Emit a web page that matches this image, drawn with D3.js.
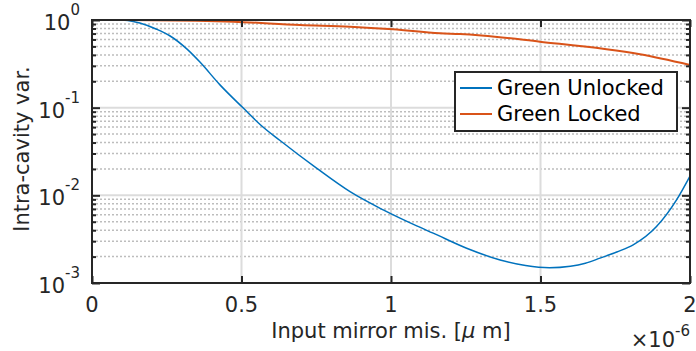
<!DOCTYPE html>
<html>
<head>
<meta charset="utf-8">
<script src="https://cdn.jsdelivr.net/npm/d3@7"></script>
<style>
  body { margin: 0; background: #fff; }
  svg text { font-family: "DejaVu Sans", sans-serif; fill: #262626; }
</style>
</head>
<body>
<svg id="chart" width="696" height="351"></svg>
<script>
'use strict';

// x in units of 1e-6 (shown with the x10^-6 multiplier)
const unlockedX = [0, 0.1, 0.12, 0.16, 0.216, 0.26, 0.317, 0.361, 0.428, 0.506, 0.565, 0.629, 0.751, 0.863, 0.974, 1.086, 1.141, 1.253, 1.365, 1.45, 1.53, 1.6, 1.65, 1.699, 1.755, 1.81, 1.888, 1.955, 2.0];
const unlockedY = [1.0, 1.0, 0.989, 0.923, 0.785, 0.661, 0.468, 0.331, 0.182, 0.0989, 0.0631, 0.0422, 0.0204, 0.011, 0.00682, 0.00448, 0.0037, 0.00249, 0.00183, 0.00158, 0.00149, 0.00155, 0.00168, 0.00192, 0.00226, 0.00272, 0.0044, 0.00887, 0.0166];
const lockedX = [0, 0.2, 0.473, 0.696, 0.863, 1.007, 1.164, 1.231, 1.498, 1.833, 2.0];
const lockedY = [1.0, 0.995, 0.957, 0.877, 0.839, 0.783, 0.705, 0.692, 0.566, 0.406, 0.307];

const xTicks = [0, 0.5, 1, 1.5, 2];
const xTickLabels = ['0', '0.5', '1', '1.5', '2'];
const yDecades = [1e-3, 1e-2, 1e-1, 1];
const yExponents = ['-3', '-2', '-1', '0'];
const seriesNames = ['Green Unlocked', 'Green Locked'];
const seriesColors = ['#0072BD', '#D95319'];

const AXIS = '#262626';
const FS = 21, SUP = 15;
const PL = 92, PR = 690, PT = 20, PB = 283;

const svg = d3.select('#chart');
const x = d3.scaleLinear().domain([0, 2]).range([PL, PR]);
const y = d3.scaleLog().domain([1e-3, 1]).range([PB, PT]);

// grid
const grid = svg.append('g');
const minorY = [];
yDecades.slice(0, 3).forEach(function(d) {
    for (let k = 2; k <= 9; k++) minorY.push(d * k);
});
grid.selectAll('.minor').data(minorY).enter().append('line')
    .attr('x1', PL).attr('x2', PR)
    .attr('y1', d => y(d)).attr('y2', d => y(d))
    .attr('stroke', '#bdbdbd').attr('stroke-width', 1.5)
    .attr('stroke-dasharray', '2,2');
grid.selectAll('.majY').data(yDecades).enter().append('line')
    .attr('x1', PL).attr('x2', PR)
    .attr('y1', d => y(d)).attr('y2', d => y(d))
    .attr('stroke', '#dcdcdc').attr('stroke-width', 2);
grid.selectAll('.majX').data(xTicks).enter().append('line')
    .attr('x1', d => x(d)).attr('x2', d => x(d))
    .attr('y1', PT).attr('y2', PB)
    .attr('stroke', '#dcdcdc').attr('stroke-width', 2);

// lines
const line = d3.line()
    .x(d => x(d[0]))
    .y(d => y(d[1]))
    .curve(d3.curveMonotoneX);
const series = [
    d3.zip(unlockedX, unlockedY),
    d3.zip(lockedX, lockedY)
];
const widths = [1.5, 2];
series.forEach(function(s, i) {
    svg.append('path')
        .datum(s)
        .attr('d', line)
        .attr('fill', 'none')
        .attr('stroke', seriesColors[i])
        .attr('stroke-width', widths[i]);
});

// axes: ticks inward on all four sides
const ax = svg.append('g');
ax.append('g').attr('transform', 'translate(0,' + PB + ')')
    .call(d3.axisBottom(x).tickValues(xTicks).tickSizeInner(-7).tickSizeOuter(0).tickFormat(''));
ax.append('g').attr('transform', 'translate(0,' + PT + ')')
    .call(d3.axisTop(x).tickValues(xTicks).tickSizeInner(-7).tickSizeOuter(0).tickFormat(''));
ax.append('g').attr('transform', 'translate(' + PL + ',0)')
    .call(d3.axisLeft(y).tickValues(yDecades).tickSizeInner(-8).tickSizeOuter(0).tickFormat(''));
ax.append('g').attr('transform', 'translate(' + PR + ',0)')
    .call(d3.axisRight(y).tickValues(yDecades).tickSizeInner(-8).tickSizeOuter(0).tickFormat(''));
ax.append('g').attr('transform', 'translate(' + PL + ',0)')
    .call(d3.axisLeft(y).tickValues(minorY).tickSizeInner(-4).tickSizeOuter(0).tickFormat(''));
ax.append('g').attr('transform', 'translate(' + PR + ',0)')
    .call(d3.axisRight(y).tickValues(minorY).tickSizeInner(-4).tickSizeOuter(0).tickFormat(''));
ax.selectAll('.domain').remove();
ax.selectAll('line').attr('stroke', AXIS).attr('stroke-width', 2);
ax.append('rect')
    .attr('x', PL).attr('y', PT)
    .attr('width', PR - PL).attr('height', PB - PT)
    .attr('fill', 'none').attr('stroke', AXIS).attr('stroke-width', 2);

// tick labels
svg.selectAll('.xl').data(xTicks).enter().append('text')
    .attr('x', d => x(d)).attr('y', PB + 29)
    .attr('text-anchor', 'middle').attr('font-size', FS)
    .text((d, i) => xTickLabels[i]);
yDecades.forEach(function(d, i) {
    const t = svg.append('text')
        .attr('x', PL - 12).attr('y', y(d) + 10)
        .attr('text-anchor', 'end').attr('font-size', FS);
    t.append('tspan').text('10');
    t.append('tspan').attr('dy', -15).attr('font-size', SUP).text(yExponents[i]);
});

// axis titles
svg.append('text')
    .attr('transform', 'translate(29,149) rotate(-90)')
    .attr('text-anchor', 'middle').attr('font-size', FS)
    .text('Intra-cavity var.');
const xt = svg.append('text')
    .attr('x', (PL + PR) / 2).attr('y', 338)
    .attr('text-anchor', 'middle').attr('font-size', FS);
xt.append('tspan').text('Input mirror mis. [');
xt.append('tspan').attr('font-style', 'italic').text('\u03bc');
xt.append('tspan').text(' m]');
const mult = svg.append('text')
    .attr('x', 690).attr('y', 347)
    .attr('text-anchor', 'end').attr('font-size', FS);
mult.append('tspan').text('\u00d710');
mult.append('tspan').attr('dy', -11).attr('font-size', SUP).text('-6');

// legend
const lg = svg.append('g').attr('transform', 'translate(455,72)');
lg.append('rect')
    .attr('width', 222).attr('height', 59)
    .attr('fill', '#fff').attr('stroke', AXIS).attr('stroke-width', 2);
seriesNames.forEach(function(name, i) {
    const cy = 16 + i * 26;
    lg.append('line')
        .attr('x1', 5).attr('x2', 37).attr('y1', cy).attr('y2', cy)
        .attr('stroke', seriesColors[i]).attr('stroke-width', 2);
    lg.append('text')
        .attr('x', 42).attr('y', cy + 7)
        .attr('font-size', FS).style('fill', '#000')
        .text(name);
});
</script>
</body>
</html>
